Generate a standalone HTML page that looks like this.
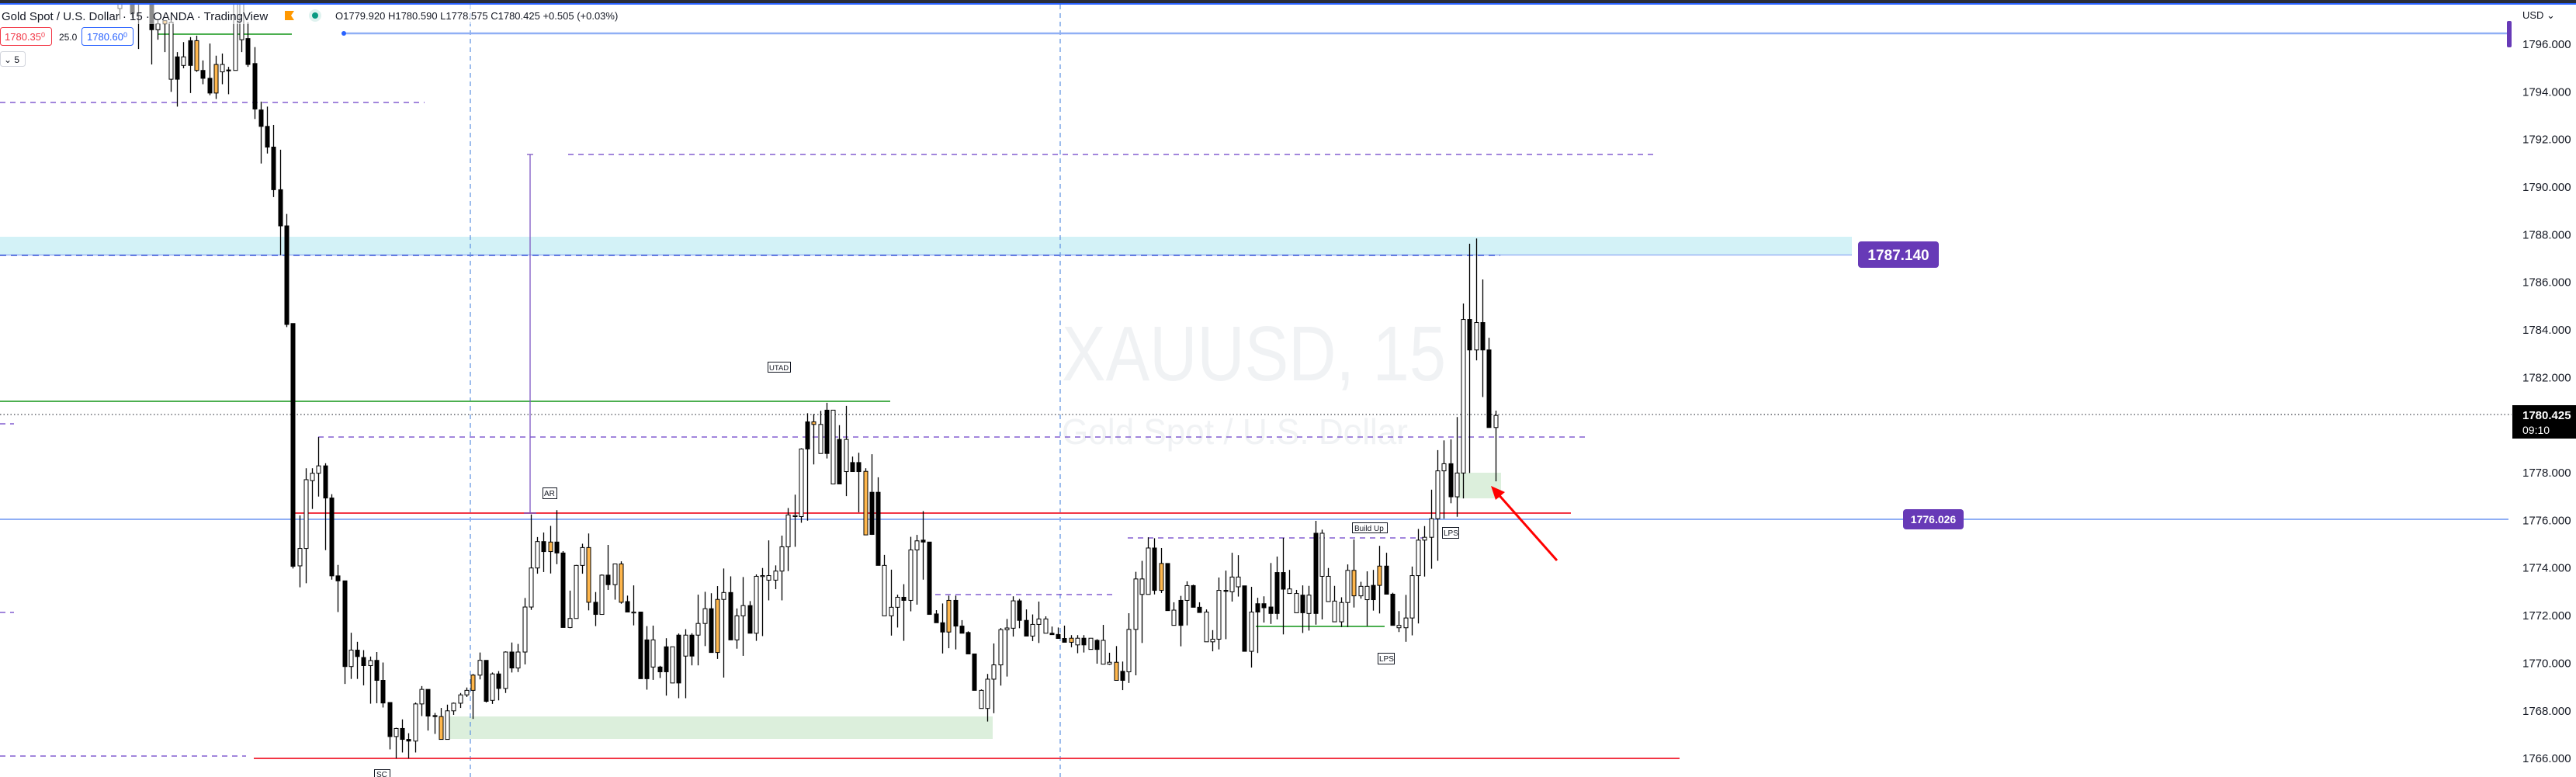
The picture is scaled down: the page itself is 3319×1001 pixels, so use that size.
<!DOCTYPE html>
<html><head><meta charset="utf-8"><title>XAUUSD 15</title>
<style>
html,body{margin:0;padding:0;background:#fff;}
svg{display:block;font-family:"Liberation Sans",sans-serif;}
</style></head>
<body>
<svg id="chart" width="3319" height="1001" viewBox="0 0 3319 1001" xmlns="http://www.w3.org/2000/svg">
<rect x="0" y="0" width="3319" height="1001" fill="#ffffff"/>
<!-- watermark -->
<text x="1368" y="490" font-size="100" fill="#f0f2f4" textLength="495" lengthAdjust="spacingAndGlyphs">XAUUSD, 15</text>
<text x="1368" y="572" font-size="46" fill="#f0f2f4" textLength="446" lengthAdjust="spacingAndGlyphs">Gold Spot / U.S. Dollar</text>
<!-- zones -->
<rect x="0" y="305" width="2386" height="24" fill="#d3f2f7"/>
<line x1="0" y1="328.5" x2="2386" y2="328.5" stroke="#9bb5f5" stroke-width="1.5"/>
<line x1="0" y1="329" x2="1933" y2="329" stroke="#3c5ad8" stroke-width="1.5" stroke-dasharray="8,6"/>
<rect x="578" y="923" width="701" height="29" fill="#dcefdc"/>
<rect x="1878" y="609" width="56" height="33" fill="#dcefdc"/>
<!-- vertical dashed -->
<line x1="606" y1="6" x2="606" y2="1001" stroke="#5b8fe0" stroke-width="1.2" stroke-dasharray="6,5"/>
<line x1="1366" y1="6" x2="1366" y2="1001" stroke="#5b8fe0" stroke-width="1.2" stroke-dasharray="6,5"/>
<!-- horizontal lines -->
<line x1="0" y1="132" x2="547" y2="132" stroke="#6a3fc8" stroke-width="1.3" stroke-dasharray="7,6"/>
<line x1="732" y1="199" x2="2134" y2="199" stroke="#6a3fc8" stroke-width="1.3" stroke-dasharray="7,6"/>
<line x1="0" y1="517" x2="1147" y2="517" stroke="#4caf50" stroke-width="2"/>
<line x1="203" y1="44" x2="376" y2="44" stroke="#4caf50" stroke-width="2"/>
<line x1="410" y1="563" x2="2043" y2="563" stroke="#6a3fc8" stroke-width="1.3" stroke-dasharray="7,6"/>
<line x1="0" y1="546" x2="18" y2="546" stroke="#6a3fc8" stroke-width="1.3" stroke-dasharray="7,6"/>
<line x1="0" y1="789" x2="18" y2="789" stroke="#6a3fc8" stroke-width="1.3" stroke-dasharray="7,6"/>
<line x1="379" y1="661" x2="2024" y2="661" stroke="#f23645" stroke-width="2"/>
<line x1="0" y1="669" x2="3232" y2="669" stroke="#90aff5" stroke-width="2"/>
<line x1="327" y1="977" x2="2164" y2="977" stroke="#f23645" stroke-width="2"/>
<line x1="0" y1="974" x2="317" y2="974" stroke="#6a3fc8" stroke-width="1.3" stroke-dasharray="7,6"/>
<line x1="1205" y1="766" x2="1437" y2="766" stroke="#6a3fc8" stroke-width="1.3" stroke-dasharray="7,6"/>
<line x1="1453" y1="693" x2="1842" y2="693" stroke="#6a3fc8" stroke-width="1.3" stroke-dasharray="7,6"/>
<line x1="1618" y1="807" x2="1784" y2="807" stroke="#4caf50" stroke-width="2"/>
<line x1="683" y1="199" x2="683" y2="661" stroke="#7e57c2" stroke-width="1.3"/>
<line x1="679" y1="199" x2="687" y2="199" stroke="#7e57c2" stroke-width="1.3"/>
<line x1="675" y1="661" x2="691" y2="661" stroke="#7e57c2" stroke-width="1.5"/>
<line x1="443" y1="43" x2="3232" y2="43" stroke="#90aff5" stroke-width="2.5"/>
<circle cx="443" cy="43" r="3" fill="#2962ff"/>
<rect x="3230" y="27" width="6" height="34" rx="2" fill="#673ab7"/>
<line x1="0" y1="534" x2="3236" y2="534" stroke="#131722" stroke-width="1" stroke-dasharray="1.5,3"/>
<g id="candles"></g>
<!-- header overlay -->
<rect x="0" y="6" width="720" height="25" fill="#ffffff" opacity="0.55"/>
<rect x="0" y="0" width="3319" height="4" fill="#2a2e39"/>
<rect x="0" y="4" width="3319" height="2" fill="#2962ff"/>
<text x="2" y="26" font-size="15" fill="#131722">Gold Spot / U.S. Dollar · 15 · OANDA · TradingView</text>
<path d="M367 14 h12 l-4 6 l4 6 h-12 z" fill="#ff9800"/>
<circle cx="406" cy="20" r="8" fill="#dff2ef"/>
<circle cx="406" cy="20" r="4" fill="#089981"/>
<text x="432" y="25" font-size="13" fill="#131722">O1779.920 H1780.590 L1778.575 C1780.425 +0.505 (+0.03%)</text>
<rect x="0.5" y="35.5" width="66" height="23" rx="3" fill="#fff" stroke="#f23645"/>
<text x="6" y="52" font-size="13" fill="#f23645">1780.35<tspan font-size="9" dy="-4">0</tspan></text>
<text x="76" y="52" font-size="12" fill="#131722">25.0</text>
<rect x="105.5" y="35.5" width="66" height="23" rx="3" fill="#fff" stroke="#2962ff"/>
<text x="112" y="52" font-size="13" fill="#2962ff">1780.60<tspan font-size="9" dy="-4">0</tspan></text>
<rect x="0.5" y="66.5" width="32" height="19" rx="3" fill="#fff" stroke="#d1d4dc"/>
<text x="5" y="81" font-size="12" fill="#131722">⌄ 5</text>
<!-- annotation labels -->
<g><rect x="482.5" y="991.5" width="20" height="14" fill="#fff" stroke="#131722"/><text x="485" y="1001" font-size="10" fill="#131722">SC</text></g>
<g><rect x="699.5" y="628.5" width="18" height="14" fill="#fff" stroke="#131722"/><text x="701" y="639" font-size="10" fill="#131722">AR</text></g>
<g><rect x="989.5" y="466.5" width="29" height="13" fill="#fff" stroke="#131722"/><text x="991" y="477" font-size="9.5" fill="#131722">UTAD</text></g>
<g><rect x="1742.5" y="673.5" width="45" height="13" fill="#fff" stroke="#131722"/><text x="1745" y="684" font-size="10" fill="#131722">Build Up</text></g>
<g><rect x="1775.5" y="841.5" width="21" height="14" fill="#fff" stroke="#131722"/><text x="1777" y="852" font-size="10" fill="#131722">LPS</text></g>
<g><rect x="1858.5" y="679.5" width="21" height="14" fill="#fff" stroke="#131722"/><text x="1860" y="690" font-size="10" fill="#131722">LPS</text></g>
<g>
<line x1="2006" y1="722" x2="1928" y2="634" stroke="#f00" stroke-width="3"/>
<path d="M1921 626 L1939 634 L1927 644 Z" fill="#f00"/>
</g>
<g><rect x="2394" y="311" width="104" height="34" rx="4" fill="#673ab7"/><text x="2446" y="335" font-size="19" font-weight="bold" fill="#fff" text-anchor="middle">1787.140</text></g>
<g><rect x="2452" y="656" width="78" height="26" rx="4" fill="#673ab7"/><text x="2491" y="674" font-size="14" font-weight="bold" fill="#fff" text-anchor="middle">1776.026</text></g>
<!-- price axis -->
<g id="yaxis"></g>
<text x="3250" y="24" font-size="13" fill="#131722">USD ⌄</text>
<rect x="3237" y="522" width="82" height="43" fill="#000"/>
<text x="3250" y="540" font-size="15" font-weight="bold" fill="#fff">1780.425</text>
<text x="3250" y="559" font-size="14" fill="#fff">09:10</text>
</svg>
<script>
const opens=[1797.5,1798.6,1798.3,1799.0,1799.0,1797.9,1796.61,1796.86,1796.92,1794.53,1795.47,1795.11,1796.15,1794.90,1793.95,1793.95,1795.15,1794.88,1794.90,1797.86,1796.24,1795.19,1793.24,1792.55,1791.68,1789.89,1788.37,1784.27,1774.09,1774.82,1777.67,1777.98,1778.29,1776.94,1773.67,1773.46,1769.86,1770.55,1770.24,1769.90,1770.12,1769.28,1768.35,1766.92,1767.26,1766.80,1766.73,1768.29,1768.90,1767.80,1766.80,1766.80,1768.0,1768.32,1768.67,1768.86,1769.5,1770.12,1768.44,1769.55,1768.94,1770.47,1769.80,1770.47,1772.36,1774.0,1775.11,1774.69,1775.09,1774.63,1771.5,1771.88,1774.11,1774.86,1772.56,1772.05,1773.70,1773.30,1774.17,1772.59,1772.15,1772.15,1769.35,1770.98,1769.84,1769.64,1770.69,1769.17,1771.18,1770.30,1771.18,1771.67,1772.29,1770.45,1772.68,1772.97,1770.98,1771.99,1772.42,1771.26,1773.68,1773.68,1773.49,1773.87,1774.89,1776.2,1776.16,1779.0,1780.14,1778.81,1778.81,1780.63,1777.53,1779.40,1778.05,1778.43,1778.06,1775.41,1777.18,1774.11,1771.99,1772.35,1772.77,1772.64,1774.76,1775.17,1775.09,1772.07,1771.70,1771.31,1772.64,1771.56,1771.29,1770.39,1768.86,1768.1,1769.33,1769.93,1771.41,1771.47,1772.62,1771.80,1771.14,1771.63,1771.86,1771.26,1771.21,1771.04,1770.88,1771.05,1770.77,1771.05,1770.58,1770.96,1769.96,1770.04,1769.28,1769.64,1771.42,1773.54,1772.89,1774.84,1773.06,1774.19,1772.23,1771.59,1772.64,1773.26,1772.35,1772.15,1770.90,1771.01,1773.06,1773.0,1773.62,1773.25,1770.50,1772.15,1772.33,1772.36,1772.09,1773.81,1773.12,1772.93,1772.12,1772.86,1772.09,1775.46,1773.65,1772.61,1771.74,1772.55,1773.90,1772.83,1773.23,1772.67,1773.27,1774.08,1772.90,1771.59,1771.49,1771.90,1773.68,1775.17,1775.29,1776.07,1778.08,1778.38,1776.99,1777.99,1784.44,1783.16,1784.31,1783.16,1779.90];
const highs=[1798.8,1799.2,1798.5,1799.1,1799.3,1798.2,1797.03,1797.0,1797.03,1795.67,1796.09,1796.30,1796.36,1795.32,1796.03,1795.52,1795.61,1795.05,1798.2,1798.2,1796.92,1795.88,1793.59,1793.38,1792.61,1791.57,1788.87,1784.27,1776.21,1778.19,1778.19,1779.50,1778.40,1777.1,1774.13,1773.46,1771.28,1770.90,1770.55,1770.28,1770.47,1770.03,1768.35,1767.29,1767.64,1767.06,1768.35,1769.04,1768.90,1767.91,1768.12,1768.26,1768.35,1768.75,1768.98,1769.55,1770.45,1770.12,1769.61,1769.67,1770.50,1770.87,1770.81,1772.74,1776.25,1775.30,1775.49,1775.77,1776.43,1774.71,1773.05,1774.13,1775.02,1775.45,1772.99,1773.73,1774.97,1774.17,1774.28,1772.84,1773.27,1772.15,1771.56,1771.58,1769.89,1771.05,1770.69,1771.25,1771.43,1771.26,1772.88,1773.0,1772.94,1773.24,1773.98,1773.65,1772.30,1773.62,1772.61,1773.73,1774.0,1775.16,1774.11,1775.36,1776.52,1777.08,1779.03,1780.50,1780.47,1780.6,1780.94,1780.63,1780.0,1780.81,1778.68,1778.84,1778.19,1778.78,1777.81,1774.55,1773.93,1772.88,1773.32,1775.31,1775.39,1776.39,1775.09,1772.23,1772.51,1772.84,1772.84,1771.81,1771.34,1770.39,1768.9,1769.55,1770.83,1771.48,1771.86,1772.81,1772.70,1772.26,1772.05,1772.59,1771.97,1771.54,1771.50,1771.58,1771.18,1771.18,1771.18,1771.05,1771.01,1771.61,1770.44,1770.72,1770.07,1772.10,1773.84,1774.30,1775.29,1775.25,1774.84,1774.19,1772.56,1772.83,1773.44,1773.30,1772.56,1772.26,1771.39,1773.60,1773.89,1774.64,1774.54,1773.25,1773.21,1772.75,1772.81,1774.21,1774.48,1775.27,1773.92,1773.08,1773.27,1773.25,1775.98,1775.61,1774.0,1773.25,1772.77,1774.15,1775.20,1773.42,1773.86,1773.92,1774.93,1774.64,1772.96,1772.19,1772.87,1774.06,1775.64,1775.76,1777.29,1778.95,1779.36,1779.40,1780.34,1785.11,1787.62,1787.84,1786.12,1783.67,1780.61];
const lows=[1797.04,1798.4,1797.1,1795.8,1798.9,1795.15,1796.19,1795.67,1794.0,1793.38,1794.99,1793.95,1794.84,1794.32,1793.86,1793.70,1794.32,1793.90,1794.9,1795.67,1795.05,1792.86,1790.99,1791.41,1789.58,1787.14,1784.12,1773.98,1773.19,1773.36,1776.48,1777.0,1774.75,1773.51,1772.15,1769.13,1769.34,1769.34,1769.07,1768.30,1768.32,1768.14,1766.38,1766.0,1766.25,1766.0,1766.25,1767.78,1767.17,1767.03,1766.80,1766.80,1767.83,1768.12,1768.58,1767.66,1769.32,1768.35,1768.29,1768.44,1768.75,1769.61,1769.63,1769.95,1772.24,1773.76,1773.83,1773.77,1774.16,1771.5,1771.47,1771.88,1773.76,1772.22,1771.56,1772.05,1773.08,1772.67,1772.5,1772.59,1771.59,1771.99,1768.89,1769.30,1769.38,1768.64,1769.64,1768.53,1768.53,1769.91,1769.91,1770.72,1771.21,1770.18,1769.40,1772.0,1770.61,1770.31,1771.99,1770.94,1771.14,1772.64,1773.11,1772.64,1773.87,1774.89,1775.9,1775.99,1778.35,1778.97,1778.6,1778.76,1777.53,1777.02,1778.05,1776.34,1777.12,1775.39,1774.69,1774.11,1771.16,1771.50,1770.94,1772.18,1772.46,1773.51,1774.78,1772.0,1770.41,1770.63,1770.58,1771.26,1770.88,1769.91,1768.71,1767.55,1767.9,1769.06,1769.44,1771.12,1771.47,1771.52,1770.93,1770.85,1771.63,1771.26,1771.20,1770.99,1770.67,1770.42,1770.45,1770.61,1769.98,1770.14,1769.93,1769.33,1768.87,1769.17,1769.49,1770.85,1772.89,1772.89,1772.95,1773.06,1772.13,1770.71,1771.59,1772.64,1772.35,1772.01,1770.50,1770.58,1771.01,1772.59,1772.80,1772.9,1769.82,1770.43,1771.71,1771.65,1771.84,1771.21,1773.06,1772.75,1771.27,1771.37,1771.62,1771.84,1773.18,1772.56,1771.52,1771.52,1772.34,1772.71,1771.56,1772.21,1772.09,1773.17,1772.90,1771.31,1770.90,1771.17,1771.67,1773.64,1773.97,1774.30,1776.07,1776.72,1776.15,1776.92,1777.99,1782.72,1781.18,1780.52,1777.64,1778.60];
const closes=[1798.5,1799.0,1797.3,1798.3,1799.2,1796.61,1796.86,1796.99,1794.53,1795.47,1795.11,1796.15,1794.90,1794.57,1794.57,1795.15,1794.84,1794.92,1797.86,1796.19,1795.15,1793.28,1792.55,1791.68,1789.89,1788.37,1784.23,1774.07,1774.82,1777.71,1777.98,1778.29,1776.94,1773.67,1773.46,1769.86,1770.55,1770.28,1769.90,1770.11,1769.28,1768.33,1766.92,1767.26,1766.80,1766.73,1768.29,1768.90,1767.78,1767.76,1767.76,1768.0,1768.32,1768.67,1768.86,1769.50,1770.12,1768.40,1769.55,1768.94,1770.47,1769.80,1770.47,1772.36,1774.0,1775.11,1774.69,1775.09,1774.63,1771.5,1771.88,1774.11,1774.86,1772.56,1772.05,1773.70,1773.30,1774.17,1772.56,1772.15,1772.15,1769.35,1770.98,1769.84,1769.64,1770.69,1769.17,1771.18,1770.30,1771.18,1771.67,1772.29,1770.45,1772.68,1772.97,1770.98,1771.99,1772.42,1771.26,1773.65,1773.67,1773.49,1773.87,1774.89,1776.23,1776.2,1779.0,1780.14,1780.03,1780.03,1780.63,1777.53,1779.40,1778.05,1778.43,1778.05,1775.39,1777.18,1774.11,1771.99,1772.35,1772.77,1772.64,1774.76,1775.14,1775.09,1772.05,1771.70,1771.31,1772.64,1771.56,1771.26,1770.39,1768.86,1768.1,1769.33,1769.93,1771.41,1771.48,1772.62,1771.80,1771.14,1771.63,1771.86,1771.26,1771.20,1771.04,1770.88,1771.05,1770.77,1771.05,1770.58,1770.96,1769.96,1770.04,1769.28,1769.66,1771.42,1773.54,1772.89,1774.84,1773.06,1774.19,1772.21,1771.59,1772.64,1773.26,1772.35,1772.13,1770.90,1771.01,1773.06,1773.05,1773.62,1773.21,1770.50,1772.15,1772.50,1772.50,1772.09,1773.81,1773.11,1772.93,1772.12,1772.86,1772.09,1775.46,1773.65,1772.59,1771.74,1772.55,1773.90,1772.83,1773.23,1772.67,1773.27,1774.08,1772.90,1771.59,1771.49,1771.90,1773.68,1775.17,1775.29,1776.07,1778.08,1778.38,1776.99,1777.99,1784.44,1783.16,1784.31,1783.16,1779.90,1780.41];
const kinds="bbrrbrbobrbrorrobrbbrrrrrrrrbbbbrrrrbrrbrrrbrrbbrrobbbbobrbrbrbbbbrorrbbborbrborbrrbrrbrbrbbrobrbbrbbbbbbbbrobrbrbrrorrbbbrbbrrrrorrrrbbbbbbrrbbbrrrobrbrbborbbbbrorbrbrrbbbrbbrbrrrrrbbrbrbbbbbobbrorrb";
const priceTicks=[1796,1794,1792,1790,1788,1786,1784,1782,1778,1776,1774,1772,1770,1768,1766];
const x0=195-5*8.285, barStep=8.285, bodyW=5;
const yOf=p=>57+(1796-p)*30.67;
const xOf=i=>x0+i*barStep;
const NS="http://www.w3.org/2000/svg";
const g=document.getElementById('candles');
for(let i=0;i<opens.length;i++){
  const o=opens[i],h=highs[i],l=lows[i],c=closes[i];
  const k=kinds[i]||(c>=o?'b':'r');
  const cx=Math.round(xOf(i))+0.5;
  const w=document.createElementNS(NS,'line');
  w.setAttribute('x1',cx);w.setAttribute('x2',cx);
  w.setAttribute('y1',yOf(h));w.setAttribute('y2',yOf(l));
  w.setAttribute('stroke','#000');w.setAttribute('stroke-width','1.3');
  
  
  g.appendChild(w);
  const top=yOf(Math.max(o,c)),bot=yOf(Math.min(o,c));
  const r=document.createElementNS(NS,'rect');
  r.setAttribute('x',cx-bodyW/2);r.setAttribute('width',bodyW);
  r.setAttribute('y',top);r.setAttribute('height',Math.max(1.2,bot-top));
  r.setAttribute('fill',k==='r'?'#000':(k==='o'?'#ffb74d':'#fff'));
  r.setAttribute('stroke','#000');r.setAttribute('stroke-width','1');
  
  
  g.appendChild(r);
}
const ya=document.getElementById('yaxis');
priceTicks.forEach(p=>{
  const t=document.createElementNS(NS,'text');
  t.setAttribute('x',3250);t.setAttribute('y',yOf(p)+5);
  t.setAttribute('font-size','15');t.setAttribute('fill','#131722');
  
  
  t.textContent=p.toFixed(3);
  ya.appendChild(t);
});
</script>
</body></html>
